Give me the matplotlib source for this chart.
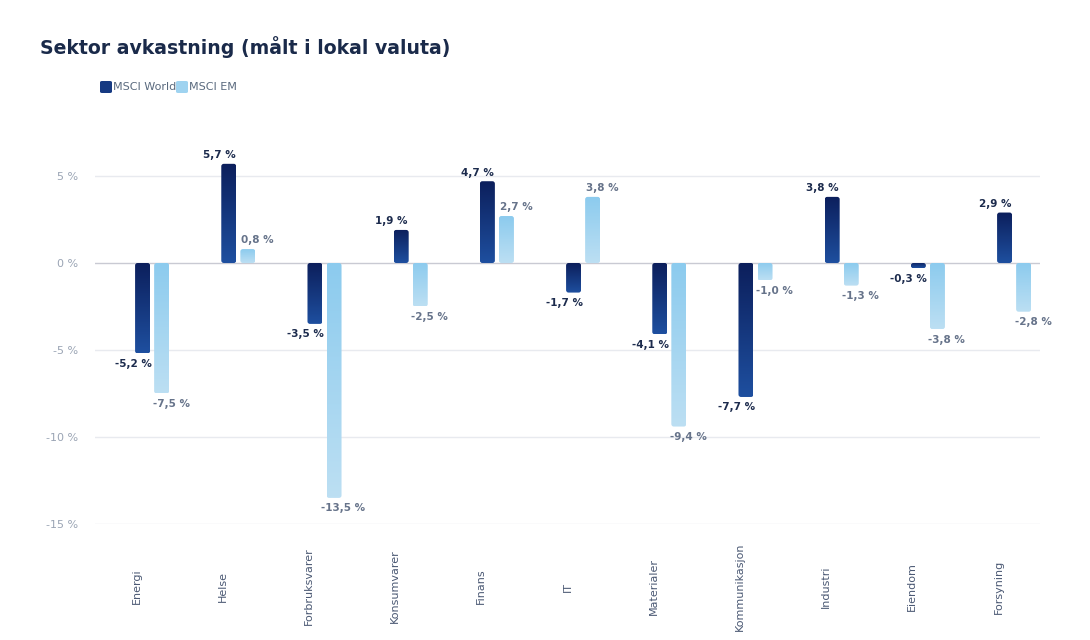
import numpy as np
import matplotlib

matplotlib.use("Agg")
import matplotlib.pyplot as plt
from matplotlib.colors import to_rgb
from matplotlib.patches import FancyBboxPatch

sectors = ["Energi", "Helse", "Forbruksvarer", "Konsumvarer", "Finans", "IT",
           "Materialer", "Kommunikasjon", "Industri", "Eiendom", "Forsyning"]
world = [-5.2, 5.7, -3.5, 1.9, 4.7, -1.7, -4.1, -7.7, 3.8, -0.3, 2.9]
em = [-7.5, 0.8, -13.5, -2.5, 2.7, 3.8, -9.4, -1.0, -1.3, -3.8, -2.8]
yticks = [5, 0, -5, -10, -15]

WORLD_TOP, WORLD_BOT = "#0c1f5c", "#1e4f9f"
EM_TOP, EM_BOT = "#8ccbee", "#bcdff3"


def fmt(v):
    return f"{v:.1f}".replace(".", ",") + " %"


def gradient_bar(ax, x0, w, v, top, bot, r, asp):
    y0, h = min(0, v), abs(v)
    patch = FancyBboxPatch((x0, y0), w, h,
                           boxstyle=f"round,pad=0,rounding_size={r}",
                           mutation_aspect=asp, transform=ax.transData,
                           facecolor="none", edgecolor="none")
    ax.add_patch(patch)
    n = 64
    t = np.linspace(0, 1, n)[:, None, None]
    grad = (1 - t) * np.array(to_rgb(top)) + t * np.array(to_rgb(bot))
    im = ax.imshow(grad, extent=[x0, x0 + w, y0, y0 + h], aspect="auto",
                   origin="upper", interpolation="bilinear", zorder=3)
    im.set_clip_path(patch)


fig = plt.figure(figsize=(10.9, 6.4), dpi=100)
ymin, ymax = -15, 8.5
ax = fig.add_axes([95 / 1090, 1 - 524 / 640, 945 / 1090, (ymax - ymin) * 17.4 / 640])

x = np.arange(len(sectors))
step = 86.2  # px per category
w = 0.174
off_w, off_e = 0.052, 0.273
# rounding in x units, aspect = (y units per px) / (x units per px)
asp = (1 / 17.4) / (1 / step)
r = 2.5 / step

for i in x:
    gradient_bar(ax, i + off_w - w / 2, w, world[i], WORLD_TOP, WORLD_BOT, r, asp)
    gradient_bar(ax, i + off_e - w / 2, w, em[i], EM_TOP, EM_BOT, r, asp)
    for v, dx, col in ((world[i], off_w - 0.11, "#1c2b4d"), (em[i], off_e + 0.11, "#66738a")):
        if v >= 0:
            ax.text(i + dx, v + 0.5, fmt(v), ha="center", va="center",
                    fontsize=7.5, fontweight="bold", color=col, zorder=4)
        else:
            ax.text(i + dx, v - 0.6, fmt(v), ha="center", va="center",
                    fontsize=7.5, fontweight="bold", color=col, zorder=4)

ax.set_xlim(-0.5, -0.5 + 945 / step)
ax.set_ylim(ymin, ymax)

for yv in yticks:
    ax.axhline(yv, color="#c9cad3" if yv == 0 else "#e8eaef", lw=1, zorder=1)

ax.set_yticks(yticks)
ax.set_yticklabels([f"{v} %" for v in yticks], color="#9aa4b4", fontsize=8)
ax.set_xticks(x - 0.02)
ax.set_xticklabels(sectors, rotation=90, va="center", color="#4a5873", fontsize=8)
ax.tick_params(axis="both", length=0)
ax.tick_params(axis="y", pad=12)
ax.tick_params(axis="x", pad=45)
for s in ax.spines.values():
    s.set_visible(False)

fig.text(40 / 1090, 1 - 47 / 640, "Sektor avkastning (målt i lokal valuta)",
         fontsize=13.6, fontweight="bold", color="#1a2a4a", va="center", ha="left")

# legend
for x0, txt, col in ((100, "MSCI World", "#163a82"), (176, "MSCI EM", "#9fd3f0")):
    fig.patches.append(FancyBboxPatch((x0 / 1090, 1 - 93 / 640), 12 / 1090, 12 / 640,
                                      boxstyle="round,pad=0,rounding_size=0.002",
                                      transform=fig.transFigure, facecolor=col,
                                      edgecolor="none"))
    fig.text((x0 + 13) / 1090, 1 - 87.5 / 640, txt, fontsize=8, color="#5a6a7e",
             va="center", ha="left")

fig.savefig("out.png", dpi=100)
